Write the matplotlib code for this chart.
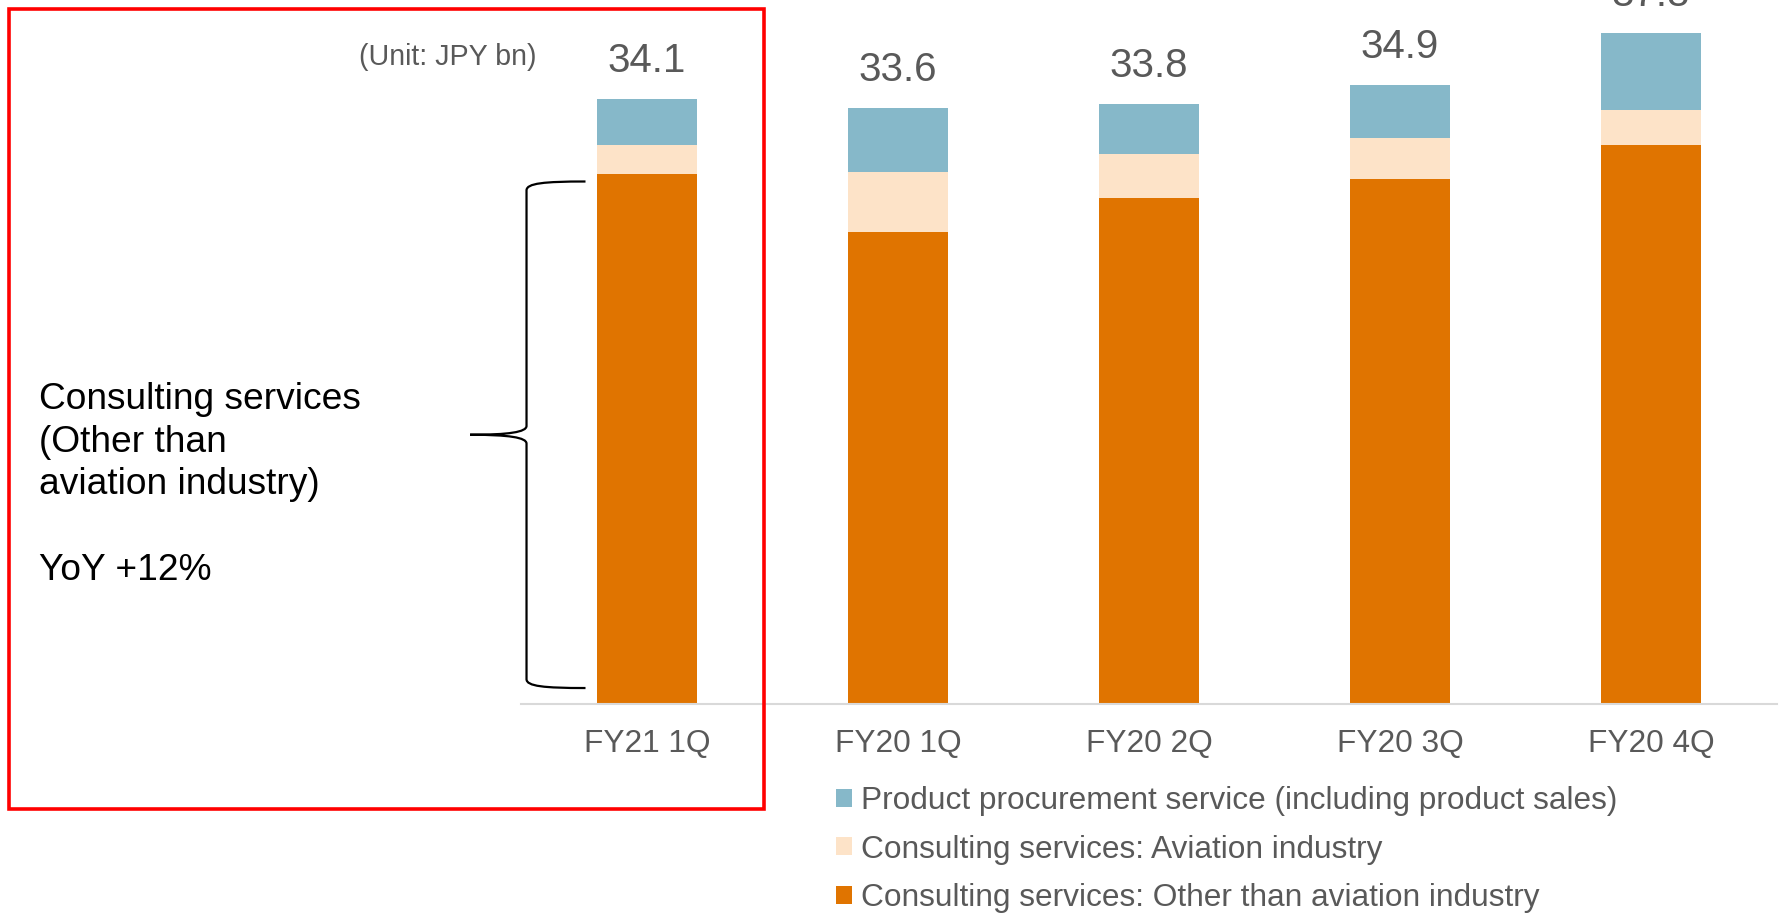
import matplotlib.pyplot as plt
from matplotlib.path import Path
from matplotlib.patches import PathPatch, Rectangle

plt.rcParams['font.family'] = ['Liberation Sans', 'DejaVu Sans']

quarters = ["FY21 1Q", "FY20 1Q", "FY20 2Q", "FY20 3Q", "FY20 4Q"]
other = [29.9, 26.6, 28.5, 29.6, 31.5]        # consulting, other than aviation
aviation = [1.6, 3.4, 2.5, 2.3, 2.0]          # consulting, aviation industry
procurement = [2.6, 3.6, 2.8, 3.0, 4.3]       # product procurement
totals = [34.1, 33.6, 33.8, 34.9, 37.8]

series_names = ["Product procurement service (including product sales)",
                "Consulting services: Aviation industry",
                "Consulting services: Other than aviation industry"]

c_blue = '#86B8C9'
c_beige = '#FDE3C8'
c_orange = '#E07400'
grey = '#595959'

W, H = 1781, 913
fig = plt.figure(figsize=(W / 100, H / 100), dpi=100)
ax = fig.add_axes([521.5 / W, 1 - 704 / H, (1776.5 - 521.5) / W, 704 / H])

x = list(range(len(quarters)))
bot2 = [a + b for a, b in zip(other, aviation)]
b_other = ax.bar(x, other, 0.4, color=c_orange)
b_avi = ax.bar(x, aviation, 0.4, bottom=other, color=c_beige)
b_proc = ax.bar(x, procurement, 0.4, bottom=bot2, color=c_blue)

for i, t in enumerate(totals):
    top = bot2[i] + procurement[i]
    ax.annotate(f"{t:.1f}", (i, top), xytext=(0, 19.5), textcoords='offset points',
                ha='center', va='baseline', fontsize=29, color=grey, annotation_clip=False)

ax.set_xlim(-0.5, 4.5)
ax.set_ylim(0, 39.68)
ax.set_xticks(x)
ax.set_xticklabels(quarters, fontsize=22.8, color=grey)
ax.tick_params(axis='x', length=0, pad=18)
ax.set_yticks([])
for s in ['top', 'left', 'right']:
    ax.spines[s].set_visible(False)
ax.spines['bottom'].set_color('#D9D9D9')
ax.spines['bottom'].set_linewidth(1.5)

# brace next to first bar
x_end, x_v, x_tip = -0.245, -0.48, -0.705
y_top, y_bot = other[0] - 0.45, 0.9
y_mid = (y_top + y_bot) / 2
dy = 0.5
verts = [(x_end, y_top), (x_v + 0.07, y_top), (x_v, y_top - 0.1), (x_v, y_top - dy),
         (x_v, y_mid + dy),
         (x_v, y_mid + 0.15), (x_v - 0.07, y_mid), (x_tip, y_mid),
         (x_v - 0.07, y_mid), (x_v, y_mid - 0.15), (x_v, y_mid - dy),
         (x_v, y_bot + dy),
         (x_v, y_bot + 0.1), (x_v + 0.07, y_bot), (x_end, y_bot)]
codes = [Path.MOVETO, Path.CURVE4, Path.CURVE4, Path.CURVE4,
         Path.LINETO,
         Path.CURVE4, Path.CURVE4, Path.CURVE4,
         Path.CURVE4, Path.CURVE4, Path.CURVE4,
         Path.LINETO,
         Path.CURVE4, Path.CURVE4, Path.CURVE4]
ax.add_patch(PathPatch(Path(verts, codes), fill=False, lw=1.6, color='black', clip_on=False))

fig.text(39 / W, 1 - 485 / H,
         "Consulting services\n(Other than\naviation industry)\n\nYoY +12%",
         ha='left', va='center', fontsize=26.7, color='black', linespacing=1.29)

fig.text(537 / W, 1 - 57 / H, "(Unit: JPY bn)", ha='right', va='center',
         fontsize=20.6, color=grey)

# red highlight box
fig.patches.append(Rectangle((9 / W, 1 - 809 / H), 755 / W, 800 / H, transform=fig.transFigure,
                             fill=False, edgecolor='#FF0000', lw=2.6))

leg = fig.legend([b_proc, b_avi, b_other], series_names, loc='upper left',
                 bbox_to_anchor=(836 / W, 1 - 786 / H), frameon=False, fontsize=22.8,
                 handlelength=0.5, handleheight=0.5, handletextpad=0.28,
                 labelspacing=0.59, borderpad=0, borderaxespad=0)
for t in leg.get_texts():
    t.set_color(grey)

fig.savefig('out.png', dpi=100)
